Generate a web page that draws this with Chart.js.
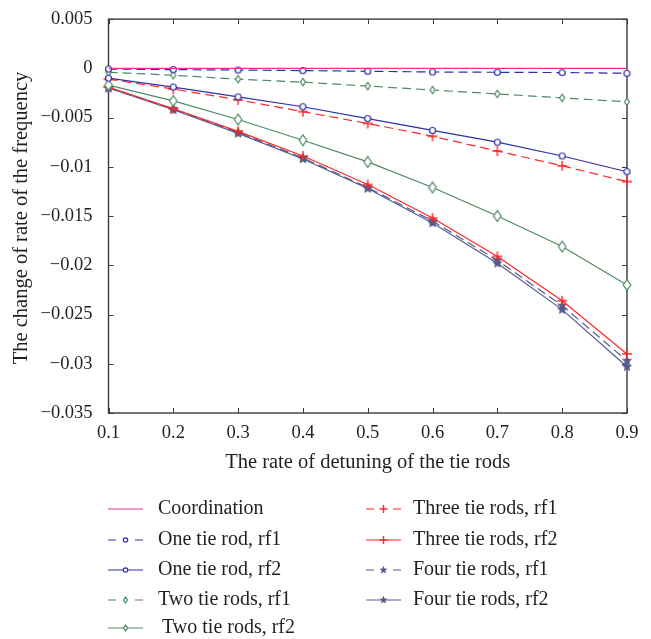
<!DOCTYPE html>
<html>
<head>
<meta charset="utf-8">
<script src="https://cdn.jsdelivr.net/npm/chart.js@4/dist/chart.umd.min.js"></script>
<style>
  body { margin: 0; background: #fff; }
  canvas { display: block; }
</style>
</head>
<body>
<canvas id="detuning" width="651" height="639"></canvas>
<script>
const rates = [0.1, 0.2, 0.3, 0.4, 0.5, 0.6, 0.7, 0.8, 0.9];

const coordination = [0, 0, 0, 0, 0, 0, 0, 0, 0];
const oneRodRf1    = [-0.00007, -0.00013, -0.00017, -0.00023, -0.0003, -0.00037, -0.0004, -0.00043, -0.0005];
const oneRodRf2    = [-0.001, -0.0019, -0.0029, -0.0039, -0.0051, -0.0063, -0.0075, -0.0089, -0.0105];
const twoRodsRf1   = [-0.0004, -0.0007, -0.0011, -0.0014, -0.0018, -0.0022, -0.0026, -0.003, -0.0034];
const twoRodsRf2   = [-0.0017, -0.0033, -0.0052, -0.0073, -0.0095, -0.0121, -0.015, -0.0181, -0.022];
const threeRodsRf1 = [-0.0011, -0.0021, -0.0032, -0.0044, -0.0056, -0.0069, -0.0084, -0.0099, -0.0115];
const threeRodsRf2 = [-0.0019, -0.0041, -0.0064, -0.0089, -0.0118, -0.0152, -0.0191, -0.0236, -0.029];
const fourRodsRf1  = [-0.002, -0.0041, -0.0065, -0.0091, -0.0121, -0.0155, -0.0195, -0.0241, -0.0297];
const fourRodsRf2  = [-0.002, -0.0042, -0.0066, -0.0092, -0.0122, -0.0157, -0.0198, -0.0245, -0.0303];

const yTicks = { min: -0.035, max: 0.005, step: 0.005 };
const xTicks = { min: 0.1, max: 0.9, step: 0.1 };

const FONT = '"Liberation Serif", "Times New Roman", serif';
const TEXT = '#231f20';
const PINK = '#e0368c';
const BLUE = '#2f2fa6';
const GREEN = '#4f8a63';
const RED = '#ff2626';
const SLATE = '#525b8c';
const DASH = [9, 5];

// marker shapes, used both on the plot (as canvas point styles) and in the legend
function drawMarker(ctx, kind, cx, cy, s, color) {
  ctx.save();
  ctx.strokeStyle = color;
  ctx.fillStyle = '#fff';
  ctx.lineWidth = 1.2;
  ctx.setLineDash([]);
  ctx.beginPath();
  if (kind === 'circle') {
    ctx.arc(cx, cy, s, 0, Math.PI * 2);
    ctx.fill(); ctx.stroke();
  } else if (kind === 'diamond') {
    ctx.moveTo(cx, cy - s * 1.3);
    ctx.lineTo(cx + s * 0.9, cy);
    ctx.lineTo(cx, cy + s * 1.3);
    ctx.lineTo(cx - s * 0.9, cy);
    ctx.closePath();
    ctx.fill(); ctx.stroke();
  } else if (kind === 'plus') {
    ctx.lineWidth = 1.4;
    ctx.moveTo(cx - s, cy); ctx.lineTo(cx + s, cy);
    ctx.moveTo(cx, cy - s); ctx.lineTo(cx, cy + s);
    ctx.stroke();
  } else if (kind === 'star') {
    ctx.fillStyle = color;
    for (let i = 0; i < 10; i++) {
      const r = i % 2 === 0 ? s : s * 0.45;
      const a = -Math.PI / 2 + i * Math.PI / 5;
      const px = cx + r * Math.cos(a), py = cy + r * Math.sin(a);
      if (i === 0) ctx.moveTo(px, py); else ctx.lineTo(px, py);
    }
    ctx.closePath();
    ctx.fill();
  }
  ctx.restore();
}

function markerCanvas(kind, s, color) {
  const size = Math.ceil(s * 2.8 + 4);
  const c = document.createElement('canvas');
  c.width = size; c.height = size;
  drawMarker(c.getContext('2d'), kind, size / 2, size / 2, s, color);
  return c;
}

function series(label, values, color, dashed, marker, size) {
  return {
    label,
    data: values.map((v, i) => ({ x: rates[i], y: v })),
    borderColor: color,
    backgroundColor: color,
    borderWidth: 1.2,
    borderDash: dashed ? DASH : [],
    pointStyle: marker ? markerCanvas(marker, size, color) : false,
    pointRadius: marker ? size : 0,
    clip: false,
    marker,
    dashed
  };
}

const datasets = [
  series('Coordination', coordination, PINK, false, null, 0),
  series('One tie rod, rf1', oneRodRf1, BLUE, true, 'circle', 3),
  series('One tie rod, rf2', oneRodRf2, BLUE, false, 'circle', 3),
  series('Two tie rods, rf1', twoRodsRf1, GREEN, true, 'diamond', 2.8),
  series('Two tie rods, rf2', twoRodsRf2, GREEN, false, 'diamond', 4.2),
  series('Three tie rods, rf1', threeRodsRf1, RED, true, 'plus', 5),
  series('Three tie rods, rf2', threeRodsRf2, RED, false, 'plus', 5),
  series('Four tie rods, rf1', fourRodsRf1, SLATE, true, 'star', 5.5),
  series('Four tie rods, rf2', fourRodsRf2, SLATE, false, 'star', 5.5)
];

// box frame with inward ticks, axis titles and the two-column legend
const frameAndLegend = {
  id: 'frameAndLegend',
  beforeDatasetsDraw(chart) {
    const { ctx, chartArea: a, scales: { x, y } } = chart;
    ctx.save();
    ctx.strokeStyle = '#3a3a3a';
    ctx.lineWidth = 1.4;
    ctx.strokeRect(a.left, a.top, a.right - a.left, a.bottom - a.top);
    ctx.lineWidth = 1;
    ctx.beginPath();
    x.ticks.forEach(t => {
      const px = Math.round(x.getPixelForValue(t.value)) + 0.5;
      ctx.moveTo(px, a.bottom); ctx.lineTo(px, a.bottom - 5);
      ctx.moveTo(px, a.top); ctx.lineTo(px, a.top + 5);
    });
    y.ticks.forEach(t => {
      const py = Math.round(y.getPixelForValue(t.value)) + 0.5;
      ctx.moveTo(a.left, py); ctx.lineTo(a.left + 5, py);
      ctx.moveTo(a.right, py); ctx.lineTo(a.right - 5, py);
    });
    ctx.stroke();
    ctx.restore();
  },
  afterDraw(chart) {
    const { ctx, chartArea: a } = chart;
    ctx.save();
    ctx.fillStyle = TEXT;
    ctx.font = '20.5px ' + FONT;
    ctx.textAlign = 'center';
    ctx.textBaseline = 'middle';
    ctx.fillText('The rate of detuning of the tie rods', (a.left + a.right) / 2, 463);
    ctx.save();
    ctx.translate(22, 218);
    ctx.rotate(-Math.PI / 2);
    ctx.fillText('The change of rate of the frequency', 0, 0);
    ctx.restore();

    const rows = [509, 540, 570, 600, 628];
    const cols = [{ x0: 108, x1: 143, tx: 158 }, { x0: 366, x1: 401, tx: 413 }];
    ctx.font = '20px ' + FONT;
    ctx.textAlign = 'left';
    chart.data.datasets.forEach((ds, i) => {
      const col = cols[i < 5 ? 0 : 1];
      const yy = rows[i < 5 ? i : i - 5];
      const mid = (col.x0 + col.x1) / 2;
      ctx.strokeStyle = ds.borderColor;
      ctx.lineWidth = 1.2;
      ctx.beginPath();
      if (ds.dashed) {
        ctx.moveTo(col.x0, yy); ctx.lineTo(col.x0 + 8, yy);
        ctx.moveTo(col.x1 - 8, yy); ctx.lineTo(col.x1, yy);
      } else {
        ctx.moveTo(col.x0, yy); ctx.lineTo(col.x1, yy);
      }
      ctx.stroke();
      if (ds.marker) {
        const s = ds.marker === 'plus' ? 4 : ds.marker === 'star' ? 4.2 : 2.2;
        drawMarker(ctx, ds.marker, mid, yy, s, ds.borderColor);
      }
      ctx.fillStyle = TEXT;
      const indent = ds.label === 'Two tie rods, rf2' ? 4 : 0;
      ctx.fillText(ds.label, col.tx + indent, yy);
    });
    ctx.restore();
  }
};

new Chart(document.getElementById('detuning'), {
  type: 'line',
  data: { datasets },
  plugins: [frameAndLegend],
  options: {
    responsive: false,
    animation: false,
    devicePixelRatio: 1,
    layout: { padding: { top: 17, right: 24, bottom: 0, left: 0 } },
    plugins: { legend: { display: false }, tooltip: { enabled: false } },
    scales: {
      x: {
        type: 'linear',
        min: xTicks.min,
        max: xTicks.max,
        afterFit: s => { s.height = 226; },
        grid: { display: false },
        border: { display: false },
        ticks: {
          stepSize: xTicks.step,
          padding: 1,
          color: TEXT,
          font: { family: FONT, size: 18.5 },
          maxRotation: 0,
          callback: v => Number(v).toFixed(1)
        }
      },
      y: {
        type: 'linear',
        min: yTicks.min,
        max: yTicks.max,
        afterFit: s => { s.width = 108.5; },
        grid: { display: false },
        border: { display: false },
        ticks: {
          stepSize: yTicks.step,
          padding: 8,
          color: TEXT,
          font: { family: FONT, size: 18.5 },
          callback: v => {
            const r = Math.round(v * 1000) / 1000;
            return r === 0 ? '0' : String(r).replace('-', '\u2212');
          }
        }
      }
    }
  }
});
</script>
</body>
</html>
